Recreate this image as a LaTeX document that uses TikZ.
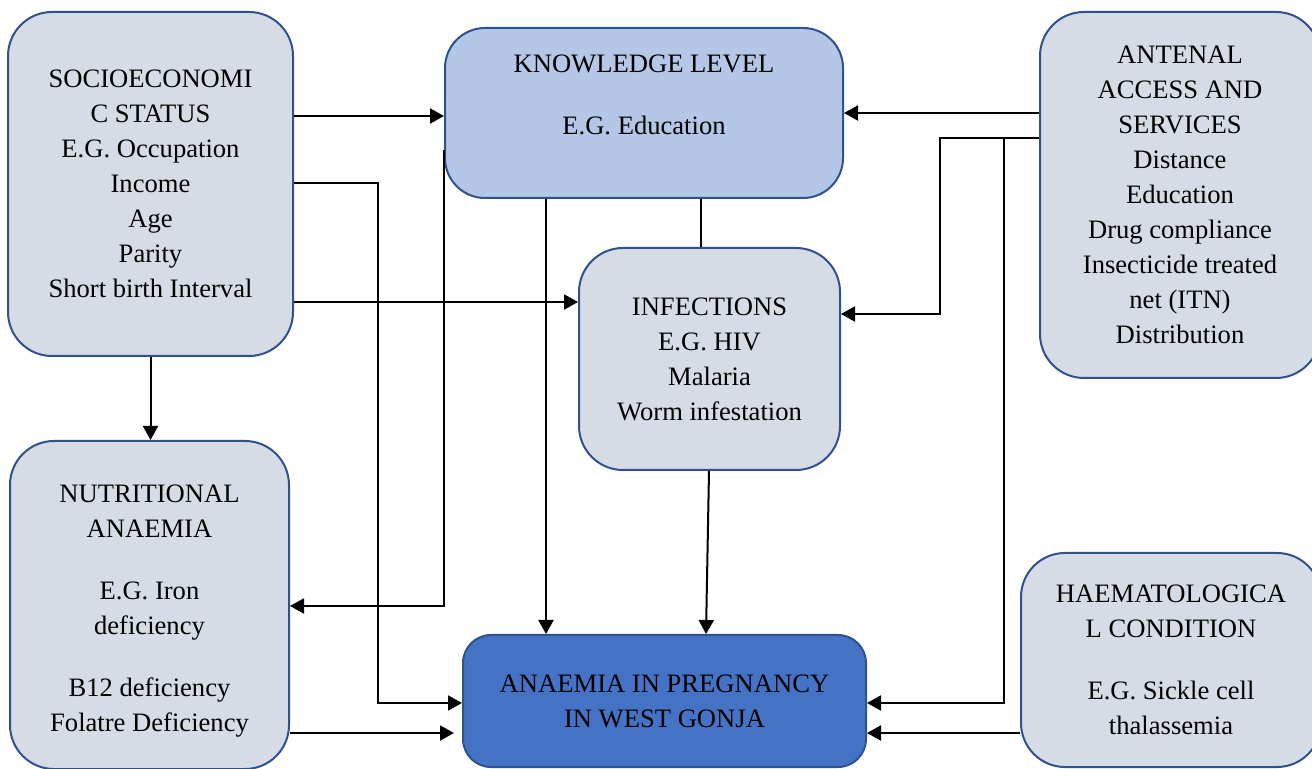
\documentclass[tikz,border=0pt]{standalone}
\usepackage{fontspec}
\setmainfont{Liberation Serif}
\usepackage{tikz}
\usetikzlibrary{shapes,arrows.meta,positioning}
\definecolor{boxgray}{HTML}{D6DCE5}
\definecolor{boxline}{HTML}{2F528F}
\definecolor{lightblue}{HTML}{B4C7E7}
\definecolor{midblue}{HTML}{4472C4}
\tikzstyle{factor} = [draw=boxline, fill=boxgray, line width=1pt, rectangle, rounded corners=22pt, align=center, inner sep=0pt, font=\fontsize{13.3pt}{17.5pt}\selectfont]
\tikzstyle{knowbox} = [factor, fill=lightblue, rounded corners=20pt]
\tikzstyle{outcome} = [factor, fill=midblue, rounded corners=14pt]
\tikzstyle{flecha} = [-{Triangle[length=7pt,width=7.5pt]}, line width=1pt]
\tikzstyle{enlace} = [line width=1pt]

\begin{document}
\begin{tikzpicture}[x=0.5pt,y=-0.5pt]
	\path[use as bounding box, clip] (0,0) rectangle (1312,769);
	\fill[white] (0,0) rectangle (1312,769);
	% boxes
	\node[factor, minimum width=142.5pt, minimum height=172pt] (socio) at (150.5,184) {%
		SOCIOECONOMI\\ C STATUS\\ E.G. Occupation\\ Income\\ Age\\ Parity\\ Short birth Interval};
	\node[knowbox, minimum width=199pt, minimum height=85pt] (know) at (644,113) {%
		KNOWLEDGE LEVEL\\[13.5pt] E.G. Education\\[0.5pt]\mbox{}};
	\node[factor, minimum width=140pt, minimum height=183pt] (ante) at (1180,195) {%
		ANTENAL\\ ACCESS AND\\ SERVICES\\ Distance\\ Education\\ Drug compliance\\ Insecticide treated\\ net (ITN)\\ Distribution};
	\node[factor, minimum width=130.5pt, minimum height=111pt] (infec) at (709.5,359) {%
		INFECTIONS\\ E.G. HIV\\ Malaria\\ Worm infestation};
	\node[factor, minimum width=139.5pt, minimum height=164pt] (nutri) at (149.5,605) {%
		\mbox{}\\[-2.7pt] NUTRITIONAL\\ ANAEMIA\\[13.5pt] E.G. Iron\\ deficiency\\[13.5pt] B12 deficiency\\ Folatre Deficiency};
	\node[outcome, minimum width=201.5pt, minimum height=66pt] (anaem) at (664.5,701) {%
		ANAEMIA IN PREGNANCY\\ IN WEST GONJA};
	\node[factor, minimum width=150pt, minimum height=107pt] (haem) at (1171,660) {%
		HAEMATOLOGICA\\ L CONDITION\\[13.5pt] E.G. Sickle cell\\ thalassemia};
	\coordinate (split) at (1004,138);
	% connectors
	\draw[flecha] (socio.east |- 0,116) -- (know.west |- 0,116);
	\draw[flecha] (socio.east |- 0,183) -| (378,703) -- (anaem.west |- 0,703);
	\draw[flecha] (socio.east |- 0,302) -- (infec.west |- 0,302);
	\draw[flecha] (socio.south) -- (socio.south |- nutri.north);
	\draw[flecha] (know.west |- 0,150) |- (nutri.east |- 0,606);
	\draw[flecha] (know.south -| 546,0) -- (anaem.north -| 546,0);
	\draw[enlace] (know.south -| 701,0) -- (infec.north -| 701,0);
	\draw[flecha] (infec.south -| 709,0) -- (anaem.north -| 706,0);
	\draw[flecha] (ante.west |- 0,113) -- (know.east |- 0,113);
	\draw[flecha] (ante.west |- split) -| (940,314) -- (infec.east |- 0,314);
	\draw[flecha] (split) |- (anaem.east |- 0,703);
	\draw[flecha] (haem.west |- 0,733) -- (anaem.east |- 0,733);
	\draw[flecha] (nutri.east |- 0,733) -- ([xshift=-4pt]anaem.west |- 0,733);
\end{tikzpicture}
\end{document}
